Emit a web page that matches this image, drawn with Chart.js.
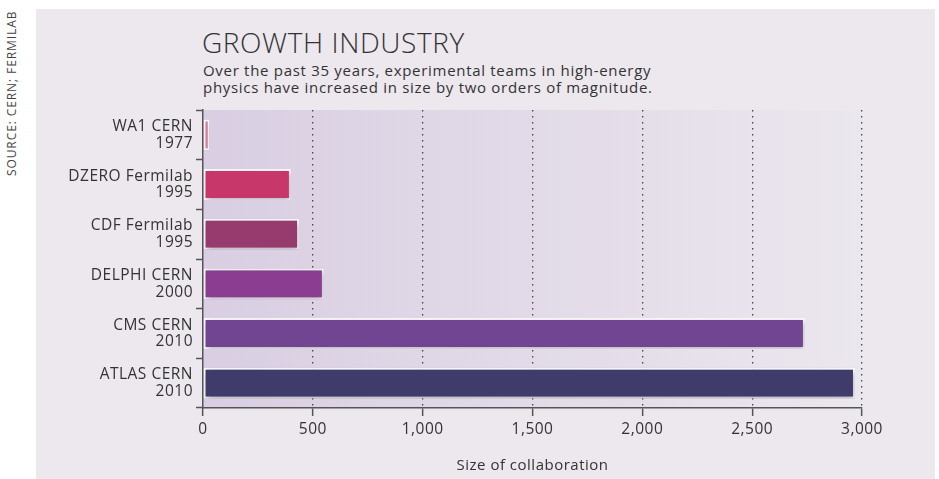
<!DOCTYPE html>
<html>
<head>
<meta charset="utf-8">
<script src="https://cdn.jsdelivr.net/npm/chart.js@4/dist/chart.umd.min.js"></script>
<style>
  html, body { margin: 0; padding: 0; background: #fff; }
  body { width: 939px; height: 479px; position: relative; overflow: hidden; font-family: 'Open Sans', sans-serif; }
  #panel { position: absolute; left: 36px; top: 9px; width: 899px; height: 470px; background: #ece8ee; }
  #source { position: absolute; left: 6px; top: 176px; transform-origin: 0 0; transform: rotate(-90deg);
            font-size: 12px; letter-spacing: 0.9px; color: #444; white-space: nowrap; line-height: 12px; }
  #title { position: absolute; left: 202px; top: 23px; font-size: 28px; font-weight: 300; color: #333; white-space: nowrap; letter-spacing: 0.6px; }
  #subtitle { position: absolute; left: 203px; top: 62px; font-size: 15px; line-height: 17px; letter-spacing: 0.7px; color: #333; white-space: nowrap; }
  #wrap { position: absolute; left: 0; top: 0; width: 939px; height: 479px; }
</style>
</head>
<body>
<div id="panel"></div>
<div id="source">SOURCE: CERN; FERMILAB</div>
<div id="title">GROWTH INDUSTRY</div>
<div id="subtitle">Over the past 35 years, experimental teams in high-energy<br>physics have increased in size by two orders of magnitude.</div>
<div id="wrap"><canvas id="chart" width="939" height="479"></canvas></div>
<script>
const experiments = [
    ['WA1 CERN', '1977'],
    ['DZERO Fermilab', '1995'],
    ['CDF Fermilab', '1995'],
    ['DELPHI CERN', '2000'],
    ['CMS CERN', '2010'],
    ['ATLAS CERN', '2010']
];
const teamSize = [30, 400, 437, 550, 2740, 2968];
const barColours = ['#df7a9c', '#c83769', '#973a6e', '#8b3d92', '#714591', '#3f3b6b'];
const xTicks = [0, 500, 1000, 1500, 2000, 2500, 3000];

// gradient behind the plot area, darker on the left
const plotBackground = {
    id: 'plotBackground',
    beforeDraw(chart) {
        const { ctx, chartArea: a } = chart;
        const g = ctx.createLinearGradient(a.left, 0, a.right, 0);
        g.addColorStop(0, '#d9cee2');
        g.addColorStop(1, '#ebe7ee');
        ctx.save();
        ctx.fillStyle = g;
        ctx.fillRect(a.left, a.top, a.right - a.left, a.bottom - a.top);
        ctx.restore();
        ctx.letterSpacing = '0.5px';
    }
};

// soft drop shadow under the bars
const barShadow = {
    id: 'barShadow',
    beforeDatasetsDraw(chart) {
        const ctx = chart.ctx;
        ctx.save();
        ctx.shadowColor = 'rgba(60, 40, 70, 0.4)';
        ctx.shadowBlur = 6;
        ctx.shadowOffsetX = 1;
        ctx.shadowOffsetY = 2;
    },
    afterDatasetsDraw(chart) {
        chart.ctx.restore();
    }
};

new Chart(document.getElementById('chart'), {
    type: 'bar',
    data: {
        labels: experiments,
        datasets: [{
            data: teamSize,
            backgroundColor: barColours,
            borderColor: '#ffffff',
            borderWidth: 2,
            borderSkipped: false,
            categoryPercentage: 1,
            barPercentage: 0.62
        }]
    },
    options: {
        indexAxis: 'y',
        responsive: false,
        animation: false,
        devicePixelRatio: 1,
        layout: { padding: { top: 110, right: 77, left: 0, bottom: 0 } },
        scales: {
            x: {
                type: 'linear',
                min: 0,
                max: 3000,
                afterBuildTicks: (axis) => { axis.ticks = xTicks.map(v => ({ value: v })); },
                afterFit: (axis) => { axis.height = 71; },
                border: { display: true, color: '#555', width: 1.5, dash: [1.5, 4.5] },
                grid: {
                    color: (c) => c.tick && c.tick.value === 0 ? 'rgba(0,0,0,0)' : '#444',
                    lineWidth: 1.3,
                    tickColor: '#555',
                    tickWidth: 1.5,
                    tickLength: 8,
                    tickBorderDash: []
                },
                ticks: {
                    color: '#333',
                    padding: 4,
                    font: { family: "'Open Sans', sans-serif", size: 15.5 },
                    callback: (v) => v.toLocaleString('en-US')
                },
                title: {
                    display: true,
                    text: 'Size of collaboration',
                    color: '#333',
                    padding: { top: 5 },
                    font: { family: "'Open Sans', sans-serif", size: 15 }
                }
            },
            y: {
                afterFit: (axis) => { axis.width = 203; },
                border: { display: true, color: '#555', width: 1.5 },
                grid: {
                    offset: true,
                    drawOnChartArea: false,
                    drawTicks: true,
                    tickLength: 7,
                    tickColor: '#555',
                    tickWidth: 1.5
                },
                ticks: {
                    color: '#333',
                    padding: 3,
                    font: { family: "'Open Sans', sans-serif", size: 15.5, lineHeight: 1.08 }
                }
            }
        },
        plugins: {
            legend: { display: false },
            tooltip: { enabled: false }
        }
    },
    plugins: [plotBackground, barShadow]
});
</script>
</body>
</html>
